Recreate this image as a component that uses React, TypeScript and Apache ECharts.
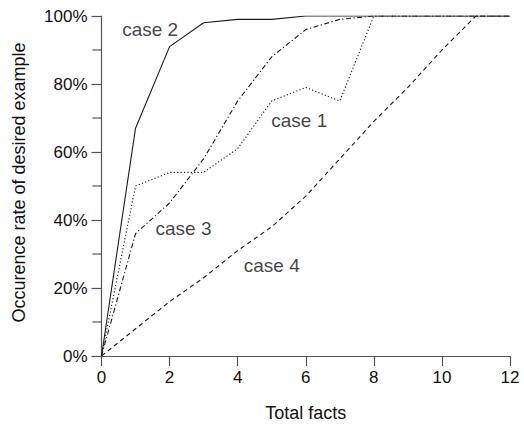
import React, { useEffect, useRef } from "react";
import * as echarts from "echarts";

const xValues = [0, 1, 2, 3, 4, 5, 6, 7, 8, 9, 10, 11, 12];
const case1 = [0, 50, 54, 54, 61, 75, 79, 75, 100, 100, 100, 100, 100];
const case2 = [0, 67, 91, 98, 99, 99, 100, 100, 100, 100, 100, 100, 100];
const case3 = [0, 36, 45, 58, 75, 88, 96, 99, 100, 100, 100, 100, 100];
const case4 = [0, 8, 16, 23, 31, 38, 47, 58, 69, 79, 90, 100, 100];
const seriesNames = ["case 1", "case 2", "case 3", "case 4"];
const yMinorTicks = [10, 30, 50, 70, 90];
// label anchor points in data units [x, y%]
const labelPoints = [
  [5.81, 69.3],
  [1.43, 95.9],
  [2.41, 37.5],
  [5.0, 26.6],
];

const FONT = "'Liberation Sans', Arial, Helvetica, sans-serif";

export default function App() {
  const ref = useRef<HTMLDivElement>(null);
  useEffect(() => {
    if (!ref.current) return;
    const chart = echarts.init(ref.current, undefined, { renderer: "svg" });
    const all = [case1, case2, case3, case4];
    const styles: any[] = [[1.2, 2.2], "solid", [5, 2.5, 1.2, 2.5], [4.5, 3.5]];
    const series: any[] = all.map((vals, i) => ({
      name: seriesNames[i],
      type: "line",
      data: xValues.map((x, j) => [x, vals[j]]),
      symbol: "none",
      lineStyle: { color: "#1a1a1a", width: 1.1, type: styles[i] },
      z: i === 1 ? 5 : 3,
    }));
    series.push({
      name: "labels",
      type: "scatter",
      symbol: "circle",
      symbolSize: 1,
      itemStyle: { color: "rgba(0,0,0,0)" },
      silent: true,
      data: labelPoints.map((p, i) => ({
        value: p,
        label: {
          show: true,
          formatter: seriesNames[i],
          position: "inside",
          color: "#111",
          fontSize: 19,
          fontFamily: FONT,
        },
      })),
      z: 10,
    });
    series.push({
      name: "minorTicks",
      type: "custom",
      clip: false,
      silent: true,
      data: yMinorTicks.map((v) => [0, v]),
      renderItem: (params: any, api: any) => {
        const p = api.coord([0, api.value(1)]);
        return {
          type: "line",
          shape: { x1: p[0] - 9, y1: p[1], x2: p[0], y2: p[1] },
          style: { stroke: "#555", lineWidth: 1.2 },
        };
      },
      z: 10,
    });
    const tickStyle = { color: "#555", width: 1.2 };
    chart.setOption({
      animation: false,
      backgroundColor: "#fff",
      grid: { left: 101.5, right: 14, top: 16, bottom: 71, containLabel: false },
      graphic: [
        {
          type: "text",
          x: 18.5,
          y: 182.5,
          rotation: Math.PI / 2,
          style: {
            text: "Occurence rate of desired example",
            fontSize: 18,
            fontFamily: FONT,
            fill: "#111",
            align: "center",
            verticalAlign: "middle",
          },
        },
      ],
      xAxis: {
        type: "value",
        min: 0,
        max: 12,
        interval: 2,
        name: "Total facts",
        nameLocation: "middle",
        nameGap: 48,
        nameTextStyle: { fontSize: 18, fontFamily: FONT, color: "#111" },
        axisLine: { show: true, lineStyle: tickStyle },
        axisTick: { show: true, length: 10, lineStyle: tickStyle },
        axisLabel: { fontSize: 17, fontFamily: FONT, color: "#111", margin: 13 },
        splitLine: { show: false },
      },
      yAxis: {
        type: "value",
        min: 0,
        max: 100,
        interval: 20,
        axisLine: { show: true, lineStyle: tickStyle },
        axisTick: { show: true, length: 10, lineStyle: tickStyle },
        axisLabel: {
          fontSize: 17,
          fontFamily: FONT,
          color: "#111",
          margin: 14,
          formatter: "{value}%",
        },
        splitLine: { show: false },
      },
      series,
    });
    return () => chart.dispose();
  }, []);
  return (
    <div
      ref={ref}
      style={{ position: "fixed", left: 0, top: 0, width: 524, height: 427, background: "#fff" }}
    />
  );
}
